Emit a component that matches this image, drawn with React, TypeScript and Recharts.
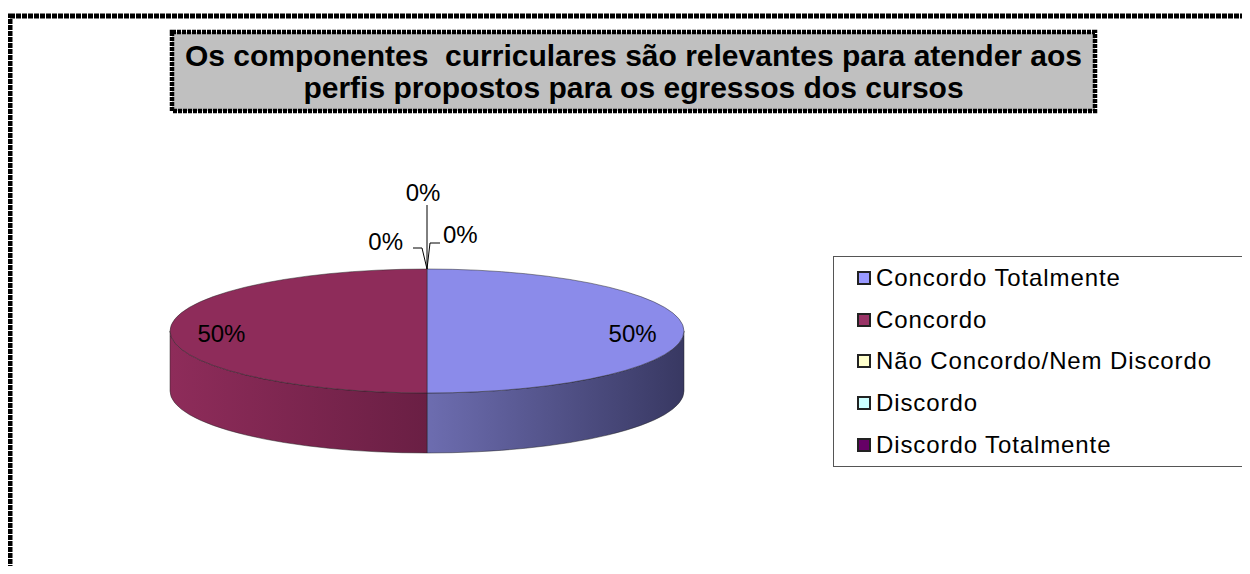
import React from 'react';
import { PieChart, Pie, Cell, Legend } from 'recharts';

const categories = [
  'Concordo Totalmente',
  'Concordo',
  'Não Concordo/Nem Discordo',
  'Discordo',
  'Discordo Totalmente',
];
const values = [50, 50, 0, 0, 0];
const legendColors = ['#9999ff', '#993366', '#ffffcc', '#ccffff', '#660066'];
const topColors = ['#8b8bea', '#8e2c5a', '#f0f0c0', '#c0f0f0', '#5c005c'];
const wallColors = [
  ['#6d6db0', '#383862'],
  ['#8e2c5a', '#6a1f44'],
  ['#d8d8a8', '#a8a880'],
  ['#a8d8d8', '#80a8a8'],
  ['#550055', '#330033'],
];

const data = categories.map((name, i) => ({ name, value: values[i] }));

const TILT = 62 / 257;
const DEPTH = 60;
const RAD = Math.PI / 180;

const Slice3D = (props: any) => {
  const { cx, cy, outerRadius, startAngle, endAngle, index } = props;
  const rx = outerRadius;
  const ry = outerRadius * TILT;
  const pt = (a: number, dy = 0) => [cx + rx * Math.cos(a * RAD), cy - ry * Math.sin(a * RAD) + dy];
  const lo = Math.min(startAngle, endAngle);
  const hi = Math.max(startAngle, endAngle);
  if (hi - lo <= 0) return null;

  const [sx, sy] = pt(startAngle);
  const [ex, ey] = pt(endAngle);
  const large = hi - lo > 180 ? 1 : 0;
  const top = `M${cx},${cy} L${sx},${sy} A${rx},${ry} 0 ${large} 1 ${ex},${ey} Z`;

  const walls: string[] = [];
  for (const k of [-1, 0, 1]) {
    const a = Math.max(lo, -180 + 360 * k);
    const b = Math.min(hi, 360 * k);
    if (b - a > 0.01) {
      const [x1, y1] = pt(b);
      const [x2, y2] = pt(a);
      const [x3, y3] = pt(a, DEPTH);
      const [x4, y4] = pt(b, DEPTH);
      walls.push(
        `M${x1},${y1} A${rx},${ry} 0 0 1 ${x2},${y2} L${x3},${y3} A${rx},${ry} 0 0 0 ${x4},${y4} Z`
      );
    }
  }
  const gid = `wall-grad-${index}`;
  return (
    <g>
      <defs>
        <linearGradient id={gid} x1="0" y1="0" x2="1" y2="0">
          <stop offset="0%" stopColor={wallColors[index][0]} />
          <stop offset="100%" stopColor={wallColors[index][1]} />
        </linearGradient>
      </defs>
      {walls.map((d, i) => (
        <path key={i} d={d} fill={`url(#${gid})`} stroke="#222" strokeOpacity={0.6} strokeWidth={0.8} />
      ))}
      <path d={top} fill={topColors[index]} stroke="#222" strokeOpacity={0.6} strokeWidth={0.8} />
    </g>
  );
};

const renderLabel = (p: any) => {
  const { cx, cy, midAngle, outerRadius, index, percent } = p;
  const text = `${Math.round(percent * 100)}%`;
  const style = { fontFamily: 'Liberation Sans, Arial, sans-serif', fontSize: 24 };
  if (percent > 0) {
    const x = cx + 0.8 * outerRadius * Math.cos(-midAngle * RAD);
    const y = cy + 0.8 * outerRadius * TILT * Math.sin(-midAngle * RAD);
    return (
      <text key={`l${index}`} x={x} y={y + 2} textAnchor="middle" dominantBaseline="central" fill="#000" style={style}>
        {text}
      </text>
    );
  }
  // zero-valued slices: stacked at the top of the pie with leader lines
  const tx = cx;
  const ty = cy - outerRadius * TILT;
  const slot = index - 2;
  if (slot === 0) {
    return (
      <g key={`l${index}`}>
        <polyline points={`${tx},${ty} ${tx + 3},${ty - 26} ${tx + 13},${ty - 26}`} fill="none" stroke="#000" strokeWidth={1} />
        <text x={tx + 16} y={ty - 35} dominantBaseline="central" fill="#000" style={style}>{text}</text>
      </g>
    );
  }
  if (slot === 1) {
    return (
      <g key={`l${index}`}>
        <polyline points={`${tx},${ty} ${tx - 5},${ty - 21} ${tx - 14},${ty - 21}`} fill="none" stroke="#000" strokeWidth={1} />
        <text x={tx - 24} y={ty - 28} textAnchor="end" dominantBaseline="central" fill="#000" style={style}>{text}</text>
      </g>
    );
  }
  return (
    <g key={`l${index}`}>
      <line x1={tx} y1={ty} x2={tx} y2={ty - 64} stroke="#000" strokeWidth={1} />
      <text x={tx - 4} y={ty - 77} textAnchor="middle" dominantBaseline="central" fill="#000" style={style}>{text}</text>
    </g>
  );
};

const LegendBox = () => (
  <div
    style={{
      boxSizing: 'border-box',
      width: 410,
      height: 211,
      border: '1.5px solid #555',
      background: '#fff',
      paddingTop: 0,
      paddingLeft: 23,
      fontFamily: 'Liberation Sans, Arial, sans-serif',
    }}
  >
    {categories.map((name, i) => (
      <div key={name} style={{ display: 'flex', alignItems: 'center', height: 41.8 }}>
        <span
          style={{
            display: 'inline-block',
            boxSizing: 'border-box',
            width: 14,
            height: 14,
            background: legendColors[i],
            border: '2px solid #222',
            marginRight: 5,
          }}
        />
        <span style={{ fontSize: 24, letterSpacing: 0.9, color: '#000', lineHeight: '28px' }}>{name}</span>
      </div>
    ))}
  </div>
);

export default function App() {
  return (
    <div style={{ position: 'relative', width: 1250, height: 574, margin: -8, background: '#fff', overflow: 'hidden' }}>
      <svg width={1250} height={574} style={{ position: 'absolute', left: 0, top: 0 }}>
        <rect x={10} y={16} width={1270} height={600} fill="#fff" stroke="#000" strokeWidth={5} strokeDasharray="5 1" />
        <rect x={172} y={32} width={923} height={79} fill="#c0c0c0" stroke="#000" strokeWidth={4.5} strokeDasharray="4 1" />
      </svg>
      <div
        style={{
          position: 'absolute',
          left: 172,
          top: 40,
          width: 923,
          textAlign: 'center',
          fontFamily: 'Liberation Sans, Arial, sans-serif',
          fontWeight: 'bold',
          fontSize: 30,
          lineHeight: '32px',
          whiteSpace: 'pre',
          color: '#000',
        }}
      >
        {'Os componentes  curriculares são relevantes para atender aos\nperfis propostos para os egressos dos cursos'}
      </div>
      <div style={{ position: 'absolute', left: 0, top: 0 }}>
        <PieChart width={1250} height={574} margin={{ top: 0, right: 0, bottom: 0, left: 0 }}>
          <Pie
            data={data}
            dataKey="value"
            nameKey="name"
            cx={427}
            cy={331}
            outerRadius={257}
            startAngle={90}
            endAngle={-270}
            stroke="none"
            shape={Slice3D}
            label={renderLabel}
            labelLine={false}
            isAnimationActive={false}
          >
            {data.map((d, i) => (
              <Cell key={d.name} fill={legendColors[i]} />
            ))}
          </Pie>
          <Legend
            layout="vertical"
            align="right"
            verticalAlign="middle"
            content={() => <LegendBox />}
            wrapperStyle={{ position: 'absolute', left: 833, top: 256, width: 410, height: 211 }}
          />
        </PieChart>
      </div>
    </div>
  );
}
